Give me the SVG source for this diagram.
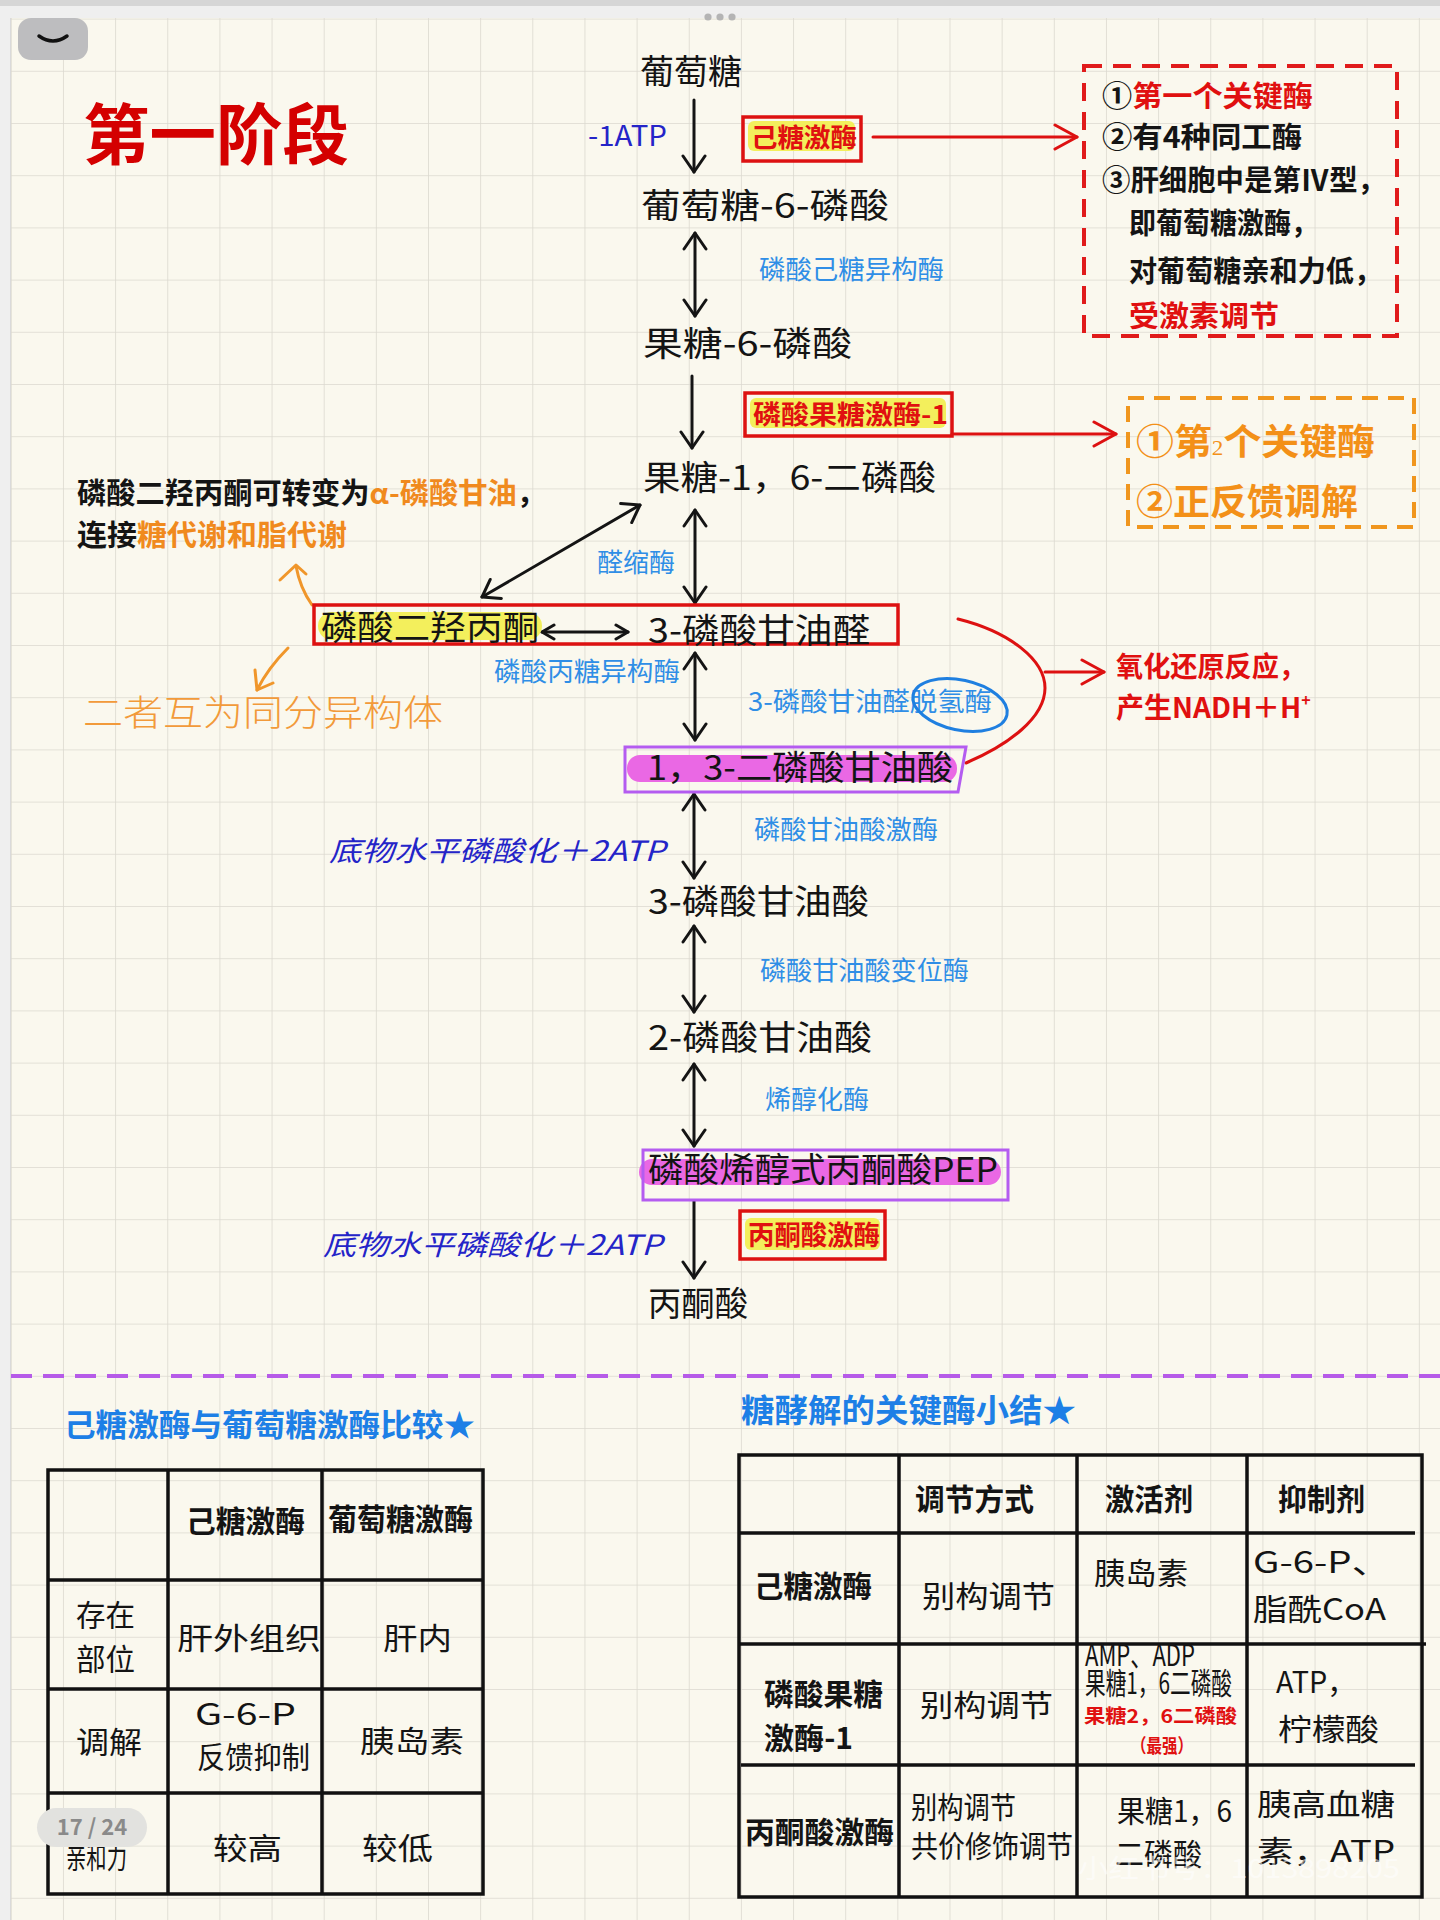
<svg xmlns="http://www.w3.org/2000/svg" width="1440" height="1920" viewBox="0 0 1440 1920">
<style>
text{font-family:"Noto Sans CJK SC","Noto Sans",sans-serif;}
.hw{fill:#141414;font-size:34px;font-weight:400;}
.enz{fill:#2f8ee6;font-size:26px;}
.red{fill:#e01010;}
.org{fill:#f08a1e;}
.b{font-weight:700;}
.atp{fill:#2424c8;font-size:28px;font-style:italic;}
.tb{fill:#141414;font-size:30px;}
.box{fill:none;stroke:#dd1111;stroke-width:3.5;}
.pbox{fill:none;stroke:#b45cf0;stroke-width:3;}
.hl{fill:#f3ef5c;}
.mg{fill:#ea68e4;}
.arr{fill:none;stroke:#141414;stroke-width:3;stroke-linecap:round;}
.rarr{fill:none;stroke:#dd1111;stroke-width:3;stroke-linecap:round;}
.oarr{fill:none;stroke:#f0962a;stroke-width:3;stroke-linecap:round;stroke-linejoin:round;}
.grid{fill:none;stroke:#111;stroke-width:3.5;}
</style>
<defs>
<pattern id="gridp" x="10.8" y="18.6" width="52.15" height="52.2" patternUnits="userSpaceOnUse">
<path d="M0,0 H52.15 M0,0 V52.2" stroke="#dcd9d0" stroke-width="1.6" fill="none"/>
</pattern>
<marker id="ah" viewBox="0 0 20 26" refX="18" refY="13" markerWidth="20" markerHeight="26" markerUnits="userSpaceOnUse" orient="auto-start-reverse">
<path d="M2,2 L18,13 L2,24" fill="none" stroke="#141414" stroke-width="3" stroke-linecap="round" stroke-linejoin="round"/>
</marker>
<marker id="ahs" viewBox="0 0 16 18" refX="14" refY="9" markerWidth="16" markerHeight="18" markerUnits="userSpaceOnUse" orient="auto-start-reverse">
<path d="M2,2 L14,9 L2,16" fill="none" stroke="#141414" stroke-width="3" stroke-linecap="round" stroke-linejoin="round"/>
</marker>
<marker id="rah" viewBox="0 0 26 28" refX="24" refY="14" markerWidth="26" markerHeight="28" markerUnits="userSpaceOnUse" orient="auto">
<path d="M2,2 L24,14 L2,26" fill="none" stroke="#dd1111" stroke-width="3" stroke-linecap="round" stroke-linejoin="round"/>
</marker>
</defs>

<!-- background -->
<rect width="1440" height="1920" fill="#efefef"/>
<rect x="0" y="0" width="1440" height="6" fill="#d6d6d6"/>
<rect x="11" y="18" width="1429" height="1902" fill="#faf8ee"/>
<rect x="11" y="18" width="1429" height="1902" fill="url(#gridp)"/>
<line x1="10.5" y1="18" x2="10.5" y2="1920" stroke="#dadada" stroke-width="1"/>

<!-- UI chrome -->
<g id="toggle">
<rect x="18" y="18" width="70" height="42" rx="13" fill="#bdbdbf"/>
<path d="M39,36 Q53,46 67,36" fill="none" stroke="#111" stroke-width="3.5" stroke-linecap="round"/>
</g>
<g id="dots" fill="#b4b4b4">
<circle cx="708" cy="17" r="3.6"/><circle cx="720" cy="17" r="3.6"/><circle cx="732" cy="17" r="3.6"/>
</g>

<!-- title -->
<text id="title" x="83" y="159" font-size="66" font-weight="700" fill="#d40000" textLength="266" lengthAdjust="spacingAndGlyphs">第一阶段</text>

<!-- connectors -->
<g id="connectors">
<line class="arr" x1="694" y1="100" x2="694" y2="172" marker-end="url(#ah)"/>
<line class="arr" x1="695" y1="233" x2="695" y2="316" marker-start="url(#ah)" marker-end="url(#ah)"/>
<line class="arr" x1="692" y1="376" x2="692" y2="448" marker-end="url(#ah)"/>
<line class="arr" x1="482" y1="597" x2="640" y2="505" marker-start="url(#ah)" marker-end="url(#ah)"/>
<line class="arr" x1="695" y1="510" x2="695" y2="603" marker-start="url(#ah)" marker-end="url(#ah)"/>
<line class="arr" x1="542" y1="632" x2="628" y2="632" marker-start="url(#ahs)" marker-end="url(#ahs)"/>
<line class="arr" x1="695" y1="653" x2="695" y2="740" marker-start="url(#ah)" marker-end="url(#ah)"/>
<line class="arr" x1="694" y1="794" x2="694" y2="878" marker-start="url(#ah)" marker-end="url(#ah)"/>
<line class="arr" x1="694" y1="926" x2="694" y2="1012" marker-start="url(#ah)" marker-end="url(#ah)"/>
<line class="arr" x1="694" y1="1064" x2="694" y2="1146" marker-start="url(#ah)" marker-end="url(#ah)"/>
<line class="arr" x1="694" y1="1201" x2="694" y2="1278" marker-end="url(#ah)"/>
<line class="rarr" x1="873" y1="137" x2="1077" y2="137" marker-end="url(#rah)"/>
<line class="rarr" x1="952" y1="434" x2="1116" y2="434" marker-end="url(#rah)"/>
<path class="rarr" d="M958,619 C1010,632 1045,660 1045,688 C1045,718 1008,745 966,763"/>
<line class="rarr" x1="1045" y1="672" x2="1104" y2="672" marker-end="url(#rah)"/>
<path class="oarr" d="M312,605 Q300,588 296,566"/>
<path class="oarr" d="M280,580 L296,565 L306,574"/>
<path class="oarr" d="M288,648 Q268,668 257,690"/>
<path class="oarr" d="M255,670 L257,690 L273,683"/>
</g>

<!-- main pathway nodes -->
<g id="n-glucose"><text class="hw" x="640" y="84" textLength="102" lengthAdjust="spacingAndGlyphs">葡萄糖</text></g>
<g id="lbl-atp1"><text x="588" y="146" font-size="28" fill="#2424c8" textLength="79" lengthAdjust="spacingAndGlyphs">-1ATP</text></g>
<g id="e-hexokinase">
<rect class="hl" x="748" y="121" width="107" height="30" rx="6"/>
<rect class="box" x="743" y="117" width="118" height="44"/>
<text class="red b" x="751" y="147" font-size="26" textLength="106" lengthAdjust="spacingAndGlyphs">己糖激酶</text>
</g>
<g id="note1">
<rect x="1084" y="66" width="313" height="270" fill="none" stroke="#e01b1b" stroke-width="4" stroke-dasharray="18 11"/>
<text x="1102" y="107" font-size="29" font-weight="700" textLength="211" lengthAdjust="spacingAndGlyphs"><tspan fill="#141414">①</tspan><tspan fill="#e01010">第一个关键酶</tspan></text>
<text x="1102" y="148" font-size="29" font-weight="700" fill="#141414" textLength="200" lengthAdjust="spacingAndGlyphs">②有4种同工酶</text>
<text x="1102" y="191" font-size="29" font-weight="700" fill="#141414" textLength="284" lengthAdjust="spacingAndGlyphs">③肝细胞中是第Ⅳ型，</text>
<text x="1129" y="234" font-size="29" font-weight="700" fill="#141414" textLength="189" lengthAdjust="spacingAndGlyphs">即葡萄糖激酶，</text>
<text x="1129" y="282" font-size="29" font-weight="700" fill="#141414" textLength="253" lengthAdjust="spacingAndGlyphs">对葡萄糖亲和力低，</text>
<text x="1129" y="327" font-size="29" font-weight="700" fill="#e01010" textLength="150" lengthAdjust="spacingAndGlyphs">受激素调节</text>
</g>
<g id="n-g6p"><text class="hw" x="641" y="218" textLength="248" lengthAdjust="spacingAndGlyphs">葡萄糖-6-磷酸</text></g>
<g id="e-pgi"><text class="enz" x="759" y="279" textLength="185" lengthAdjust="spacingAndGlyphs">磷酸己糖异构酶</text></g>
<g id="n-f6p"><text class="hw" x="643" y="356" textLength="209" lengthAdjust="spacingAndGlyphs">果糖-6-磷酸</text></g>
<g id="e-pfk1">
<rect class="hl" x="750" y="398" width="196" height="30" rx="6"/>
<rect class="box" x="745" y="393" width="207" height="43"/>
<text class="red b" x="753" y="424" font-size="26" textLength="195" lengthAdjust="spacingAndGlyphs">磷酸果糖激酶-1</text>
</g>
<g id="note2">
<rect x="1128" y="398" width="286" height="129" fill="none" stroke="#f0961e" stroke-width="4" stroke-dasharray="16 10"/>
<text x="1136" y="455" font-size="36" font-weight="700" fill="#f39018" textLength="239" lengthAdjust="spacingAndGlyphs">①第<tspan font-size="22" font-weight="400" font-family="Liberation Serif,serif">2</tspan>个关键酶</text>
<text x="1136" y="515" font-size="36" font-weight="700" fill="#f39018" textLength="222" lengthAdjust="spacingAndGlyphs">②正反馈调解</text>
</g>
<g id="n-f16bp"><text class="hw" x="643" y="490" textLength="293" lengthAdjust="spacingAndGlyphs">果糖-1，6-二磷酸</text></g>
<g id="note3">
<text x="77" y="504" font-size="29" font-weight="700" textLength="469" lengthAdjust="spacingAndGlyphs"><tspan fill="#141414">磷酸二羟丙酮可转变为</tspan><tspan fill="#f08a1e">α-磷酸甘油</tspan><tspan fill="#141414">，</tspan></text>
<text x="77" y="546" font-size="29" font-weight="700" textLength="270" lengthAdjust="spacingAndGlyphs"><tspan fill="#141414">连接</tspan><tspan fill="#f08a1e">糖代谢和脂代谢</tspan></text>
</g>
<g id="e-aldolase"><text class="enz" x="597" y="572" textLength="78" lengthAdjust="spacingAndGlyphs">醛缩酶</text></g>
<g id="n-triose">
<rect class="hl" x="318" y="612" width="224" height="28" rx="14"/>
<rect class="box" x="314" y="605" width="584" height="39"/>
<text class="hw" x="321" y="640" textLength="218" lengthAdjust="spacingAndGlyphs">磷酸二羟丙酮</text>
<text class="hw" x="648" y="643" textLength="222" lengthAdjust="spacingAndGlyphs">3-磷酸甘油醛</text>
</g>
<g id="note4"><text x="83" y="726" font-size="36" font-weight="300" fill="#f29a3a" textLength="360" lengthAdjust="spacingAndGlyphs">二者互为同分异构体</text></g>
<g id="e-tpi"><text class="enz" x="494" y="681" textLength="186" lengthAdjust="spacingAndGlyphs">磷酸丙糖异构酶</text></g>
<g id="e-gapdh">
<text class="enz" x="748" y="711" textLength="244" lengthAdjust="spacingAndGlyphs">3-磷酸甘油醛脱氢酶</text>
<ellipse cx="960" cy="705" rx="48" ry="25" transform="rotate(12 960 705)" fill="none" stroke="#1f7fe0" stroke-width="3"/>
</g>
<g id="note5">
<text class="red b" x="1116" y="677" font-size="28" textLength="190" lengthAdjust="spacingAndGlyphs">氧化还原反应，</text>
<text class="red b" x="1116" y="718" font-size="28">产生NADH＋H<tspan font-size="16" dy="-12">+</tspan></text>
</g>
<g id="n-13bpg">
<rect class="mg" x="627" y="755" width="330" height="27" rx="13"/>
<polygon class="pbox" points="625,747 966,747 958,792 625,792"/>
<text class="hw" x="647" y="780" textLength="306" lengthAdjust="spacingAndGlyphs">1，3-二磷酸甘油酸</text>
</g>
<g id="lbl-atp2"><text class="atp" x="329" y="861" textLength="336" lengthAdjust="spacingAndGlyphs">底物水平磷酸化＋2ATP</text></g>
<g id="e-pgk"><text class="enz" x="754" y="839" textLength="184" lengthAdjust="spacingAndGlyphs">磷酸甘油酸激酶</text></g>
<g id="n-3pg"><text class="hw" x="648" y="914" textLength="221" lengthAdjust="spacingAndGlyphs">3-磷酸甘油酸</text></g>
<g id="e-pgm"><text class="enz" x="760" y="980" textLength="209" lengthAdjust="spacingAndGlyphs">磷酸甘油酸变位酶</text></g>
<g id="n-2pg"><text class="hw" x="648" y="1050" textLength="224" lengthAdjust="spacingAndGlyphs">2-磷酸甘油酸</text></g>
<g id="e-enolase"><text class="enz" x="765" y="1109" textLength="104" lengthAdjust="spacingAndGlyphs">烯醇化酶</text></g>
<g id="n-pep">
<rect class="mg" x="639" y="1159" width="362" height="26" rx="13"/>
<rect class="pbox" x="643" y="1150" width="365" height="50"/>
<text class="hw" x="648" y="1182" textLength="350" lengthAdjust="spacingAndGlyphs">磷酸烯醇式丙酮酸PEP</text>
</g>
<g id="e-pk">
<rect class="hl" x="745" y="1218" width="135" height="32" rx="6"/>
<rect class="box" x="740" y="1211" width="145" height="48"/>
<text class="red b" x="748" y="1245" font-size="27" textLength="132" lengthAdjust="spacingAndGlyphs">丙酮酸激酶</text>
</g>
<g id="lbl-atp3"><text class="atp" x="323" y="1255" textLength="339" lengthAdjust="spacingAndGlyphs">底物水平磷酸化＋2ATP</text></g>
<g id="n-pyruvate"><text class="hw" x="648" y="1316" textLength="100" lengthAdjust="spacingAndGlyphs">丙酮酸</text></g>

<!-- divider -->
<line x1="11" y1="1376" x2="1440" y2="1376" stroke="#b65be8" stroke-width="4" stroke-dasharray="21 11"/>

<!-- left table -->
<g id="table-left">
<text x="64" y="1436" font-size="31" font-weight="700" fill="#1d7fe6" textLength="411" lengthAdjust="spacingAndGlyphs">己糖激酶与葡萄糖激酶比较★</text>
<rect class="grid" x="48" y="1470" width="435" height="424"/>
<line class="grid" x1="168" y1="1470" x2="168" y2="1894"/>
<line class="grid" x1="322" y1="1470" x2="322" y2="1894"/>
<line class="grid" x1="48" y1="1580" x2="483" y2="1580"/>
<line class="grid" x1="48" y1="1689" x2="483" y2="1689"/>
<line class="grid" x1="48" y1="1793" x2="483" y2="1793"/>
<text class="tb b" x="186" y="1532" textLength="119" lengthAdjust="spacingAndGlyphs">己糖激酶</text>
<text class="tb b" x="328" y="1530" font-size="29" textLength="145" lengthAdjust="spacingAndGlyphs">葡萄糖激酶</text>
<text class="tb" x="76" y="1626" font-size="29" textLength="59" lengthAdjust="spacingAndGlyphs">存在</text>
<text class="tb" x="76" y="1670" font-size="29" textLength="59" lengthAdjust="spacingAndGlyphs">部位</text>
<text class="tb" x="177" y="1649" font-size="36" textLength="144" lengthAdjust="spacingAndGlyphs">肝外组织</text>
<text class="tb" x="383" y="1649" font-size="36" textLength="69" lengthAdjust="spacingAndGlyphs">肝内</text>
<text class="tb" x="76" y="1753" font-size="32" textLength="66" lengthAdjust="spacingAndGlyphs">调解</text>
<text class="tb" x="195" y="1725" font-size="29" textLength="101" lengthAdjust="spacingAndGlyphs">G-6-P</text>
<text class="tb" x="197" y="1768" font-size="28" textLength="113" lengthAdjust="spacingAndGlyphs">反馈抑制</text>
<text class="tb" x="360" y="1752" font-size="34" textLength="104" lengthAdjust="spacingAndGlyphs">胰岛素</text>
<text class="tb" x="66" y="1868" font-size="18" textLength="61" lengthAdjust="spacingAndGlyphs">亲和力</text>
<text class="tb" x="213" y="1859" font-size="34" textLength="69" lengthAdjust="spacingAndGlyphs">较高</text>
<text class="tb" x="362" y="1859" font-size="34" textLength="71" lengthAdjust="spacingAndGlyphs">较低</text>
</g>
<g id="page-badge">
<rect x="37" y="1808" width="110" height="39" rx="19.5" fill="#e2e2df"/>
<text x="92" y="1835" font-size="22" font-weight="700" fill="#8a8a8a" text-anchor="middle" font-family="Noto Sans, sans-serif">17 / 24</text>
</g>

<!-- right table -->
<g id="table-right">
<text x="741" y="1422" font-size="32" font-weight="700" fill="#1d7fe6" textLength="335" lengthAdjust="spacingAndGlyphs">糖酵解的关键酶小结★</text>
<rect class="grid" x="739" y="1455" width="683" height="442"/>
<line class="grid" x1="899" y1="1455" x2="899" y2="1897"/>
<line class="grid" x1="1077" y1="1455" x2="1077" y2="1897"/>
<line class="grid" x1="1247" y1="1455" x2="1247" y2="1897"/>
<line class="grid" x1="739" y1="1533" x2="1415" y2="1533"/>
<line class="grid" x1="739" y1="1644" x2="1426" y2="1644"/>
<line class="grid" x1="741" y1="1765" x2="1415" y2="1765"/>
<text class="tb b" x="915" y="1510" textLength="119" lengthAdjust="spacingAndGlyphs">调节方式</text>
<text class="tb b" x="1105" y="1510" textLength="88" lengthAdjust="spacingAndGlyphs">激活剂</text>
<text class="tb b" x="1278" y="1510" textLength="87" lengthAdjust="spacingAndGlyphs">抑制剂</text>
<text class="tb b" x="754" y="1597" textLength="118" lengthAdjust="spacingAndGlyphs">己糖激酶</text>
<text class="tb" x="922" y="1607" font-size="33" textLength="133" lengthAdjust="spacingAndGlyphs">别构调节</text>
<text class="tb" x="1094" y="1584" font-size="31" textLength="94" lengthAdjust="spacingAndGlyphs">胰岛素</text>
<text class="tb" x="1253" y="1573" font-size="31" textLength="137" lengthAdjust="spacingAndGlyphs">G-6-P、</text>
<text class="tb" x="1253" y="1620" font-size="31" textLength="133" lengthAdjust="spacingAndGlyphs">脂酰CoA</text>
<text class="tb b" x="764" y="1705" font-size="29" textLength="119" lengthAdjust="spacingAndGlyphs">磷酸果糖</text>
<text class="tb b" x="764" y="1749" font-size="29" textLength="89" lengthAdjust="spacingAndGlyphs">激酶-1</text>
<text class="tb" x="920" y="1716" font-size="33" textLength="133" lengthAdjust="spacingAndGlyphs">别构调节</text>
<text class="tb" x="1085" y="1666" font-size="18" textLength="110" lengthAdjust="spacingAndGlyphs">AMP、ADP</text>
<text class="tb" x="1085" y="1694" font-size="18" textLength="147" lengthAdjust="spacingAndGlyphs">果糖1，6二磷酸</text>
<text class="red b" x="1084" y="1723" font-size="19" textLength="153" lengthAdjust="spacingAndGlyphs">果糖2，6二磷酸</text>
<text class="red b" x="1131" y="1753" font-size="19" textLength="62" lengthAdjust="spacingAndGlyphs">（最强）</text>
<text class="tb" x="1276" y="1693" font-size="31" textLength="80" lengthAdjust="spacingAndGlyphs">ATP，</text>
<text class="tb" x="1278" y="1740" font-size="31" textLength="101" lengthAdjust="spacingAndGlyphs">柠檬酸</text>
<text class="tb b" x="745" y="1843" textLength="149" lengthAdjust="spacingAndGlyphs">丙酮酸激酶</text>
<text class="tb" x="911" y="1818" font-size="26" textLength="105" lengthAdjust="spacingAndGlyphs">别构调节</text>
<text class="tb" x="911" y="1857" font-size="26" textLength="162" lengthAdjust="spacingAndGlyphs">共价修饰调节</text>
<text class="tb" x="1117" y="1822" font-size="29" textLength="115" lengthAdjust="spacingAndGlyphs">果糖1，6</text>
<text class="tb" x="1115" y="1865" font-size="29" textLength="87" lengthAdjust="spacingAndGlyphs">二磷酸</text>
<text class="tb" x="1257" y="1815" font-size="31" textLength="138" lengthAdjust="spacingAndGlyphs">胰高血糖</text>
<text class="tb" x="1257" y="1862" font-size="31" textLength="138" lengthAdjust="spacingAndGlyphs">素，ATP</text>
</g>
<g id="watermark">
<text x="1078" y="1878" font-size="26" fill="#ffffff" fill-opacity="0.55" textLength="322" lengthAdjust="spacingAndGlyphs">小红书号：1013898205</text>
</g>
</svg>
